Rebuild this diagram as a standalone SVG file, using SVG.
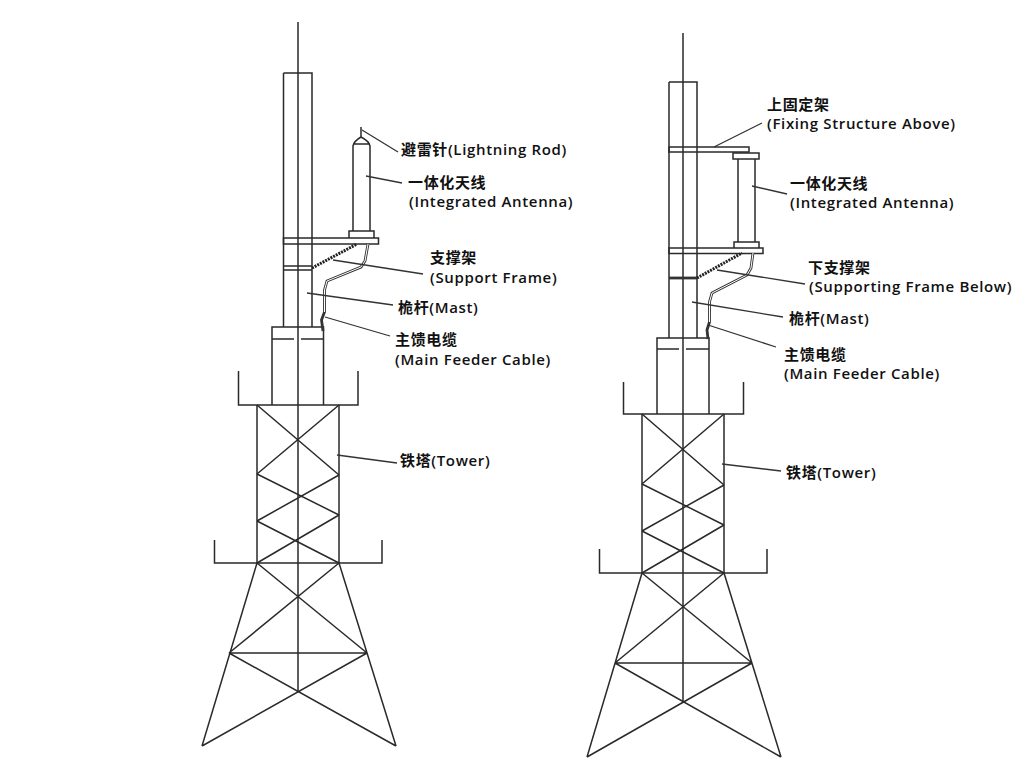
<svg xmlns="http://www.w3.org/2000/svg" width="1024" height="768" viewBox="0 0 1024 768">
<style>
.s{fill:none;stroke:#2a2a2a;stroke-width:1.5}
.t{fill:none;stroke:#333;stroke-width:2.8}
.h{fill:none;stroke:#222;stroke-width:3}
.w{fill:none;stroke:#fff;stroke-width:1}
.l{fill:none;stroke:#333;stroke-width:1.3}
text{font-family:"Open Sans","Noto Sans CJK SC",sans-serif;font-size:15px;font-weight:600;letter-spacing:.65px;fill:#111}
</style>
<rect width="1024" height="768" fill="#fff"/>
<g id="tower-left">
<path class="s" d="M238.500 371V405H358V371M214.500 540V563H382V540M257 405V563M339 405V563M298 405V692"/>
<path class="s" d="M257 405L339 475M339 405L257 474M257 474L339 515M339 475L257 521M257 521L339 563M339 515L257 563"/>
<path class="s" d="M257 563L202 746M339 563L396 746M257 563L367 653M339 563L229 653M229 653H367M229 653L396 746M367 653L202 746"/>
</g>
<g id="mast-left">
<path class="s" d="M298 22V405M283.500 73H312V327M283.500 73V327M272 405V327H323.500V405M272 339H294M301 339H323.500"/>
</g>
<g id="antenna-left">
<path class="s" d="M361 127V137M353 231V146Q354 141 361 137Q369 141 370 146V231M353 144H370M349 238V231H374V238"/>
<rect class="s" x="283.500" y="238" width="95" height="6"/>
<path class="s" d="M283.500 266H312M283.500 270H312"/>
<path class="h" stroke-dasharray="2 1" d="M312 268L357 244"/>
</g>
<g id="cable-left">
<path class="t" d="M368 244L365 261L361 267L327 281L324.500 290V312L321.500 320L323 331"/>
<path class="w" d="M368 244L365 261L361 267L327 281L324.500 290V312"/>
</g>
<g id="tower-right">
<path class="s" d="M623.500 382V414H743.500V382M599.500 549V573H767V549M642 414V573M724 414V573M683 414V702"/>
<path class="s" d="M642 414L724 485M724 414L642 484M642 484L724 525M724 485L642 531M642 531L724 573M724 525L642 573"/>
<path class="s" d="M642 573L587 757M724 573L781 757M642 573L752 663M724 573L615 663M615 663H752M615 663L781 757M752 663L587 757"/>
</g>
<g id="mast-right">
<path class="s" d="M683 33V414M669 82H697V338M669 82V338M657 414V338H709V414M657 349H679M686 349H709"/>
</g>
<g id="antenna-right">
<rect class="s" x="669" y="147" width="80" height="5"/>
<rect class="s" x="733" y="153" width="26" height="6"/>
<path class="s" d="M738 159V242M755 159V242M734 248V242H759V248"/>
<rect class="s" x="669" y="248" width="94" height="5.500"/>
<path class="t" d="M669 278H697"/>
<path class="h" stroke-dasharray="2 1" d="M697 278L742 253"/>
</g>
<g id="cable-right">
<path class="t" d="M753 253L751 268L747 275L712 293L709.500 302V322L707 330L708 339"/>
<path class="w" d="M753 253L751 268L747 275L712 293L709.500 302V322"/>
</g>
<g id="connectors">
<path class="l" d="M362 130L398 152M366 176L402 183M333 260L423 274M307 293L393 305M325 317L390 336M337 455L397 463"/>
<path class="l" d="M714 147L762 123M752 186L787 194M717 270L805 284M692 302L783 317M708 325L776 347M722 464L781 471"/>
</g>
<g id="labels-left">
<text x="401" y="155">避雷针(Lightning Rod)</text>
<text x="408" y="188">一体化天线</text>
<text x="409" y="207">(Integrated Antenna)</text>
<text x="430" y="263">支撑架</text>
<text x="430" y="283">(Support Frame)</text>
<text x="398" y="313">桅杆(Mast)</text>
<text x="395" y="345">主馈电缆</text>
<text x="395" y="365">(Main Feeder Cable)</text>
<text x="400" y="466">铁塔(Tower)</text>
</g>
<g id="labels-right">
<text x="767" y="110">上固定架</text>
<text x="767" y="129">(Fixing Structure Above)</text>
<text x="790" y="189">一体化天线</text>
<text x="790" y="208">(Integrated Antenna)</text>
<text x="808" y="273">下支撑架</text>
<text x="809" y="292">(Supporting Frame Below)</text>
<text x="789" y="324">桅杆(Mast)</text>
<text x="784" y="360">主馈电缆</text>
<text x="784" y="379">(Main Feeder Cable)</text>
<text x="786" y="478">铁塔(Tower)</text>
</g>
</svg>
